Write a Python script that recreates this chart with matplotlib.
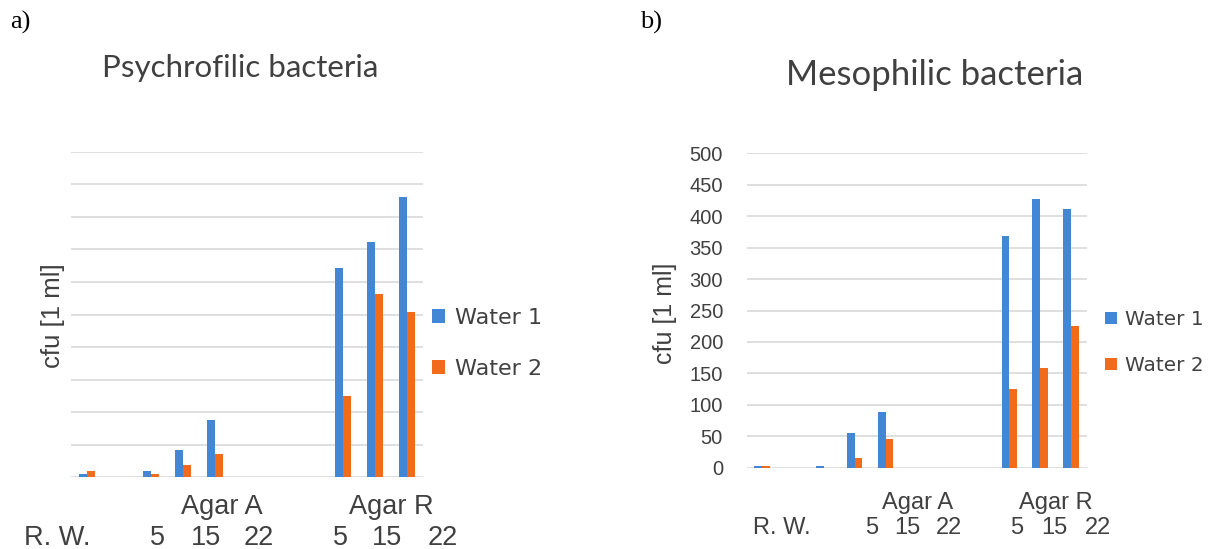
import matplotlib
matplotlib.use("Agg")
import matplotlib.pyplot as plt
import numpy as np

# categories (gaps are empty slots in the original sheet)
categories = ["R. W.", "", "A 5", "A 15", "A 22", "", "", "", "R 5", "R 15", "R 22"]
series_names = ["Water 1", "Water 2"]

# Psychrofilic bacteria (no y scale printed; read on gridline units)
psy_water1 = [5, 0, 9, 42, 88, 0, 0, 0, 321, 361, 431]
psy_water2 = [9, 0, 5, 19, 36, 0, 0, 0, 125, 282, 254]

# Mesophilic bacteria
meso_water1 = [3, 0, 3, 55, 88, 0, 0, 0, 368, 428, 411]
meso_water2 = [3, 0, 0, 15, 45, 0, 0, 0, 125, 158, 225]

yticks = [0, 50, 100, 150, 200, 250, 300, 350, 400, 450, 500]

BLUE = "#4287d6"
ORANGE = "#f26b1a"
GRID = "#d9d9d9"
TXT = "#404040"

W, H = 1213, 549
fig = plt.figure(figsize=(W / 100, H / 100), dpi=100)


def px(x, y):
    # pixel position -> figure fraction
    return x / W, 1 - y / H


def axes_rect(x0, y0, x1, y1):
    return [x0 / W, 1 - y1 / H, (x1 - x0) / W, (y1 - y0) / H]


def draw_bars(ax, v1, v2):
    x = np.arange(len(categories))
    ax.bar(x - 0.125, v1, width=0.25, color=BLUE, label=series_names[0], zorder=3)
    ax.bar(x + 0.125, v2, width=0.25, color=ORANGE, label=series_names[1], zorder=3)
    ax.set_xlim(-0.5, len(categories) - 0.5)
    ax.set_ylim(0, 500)
    ax.set_yticks(yticks)
    ax.yaxis.grid(True, color=GRID, linewidth=1.2, zorder=0)
    ax.set_xticks([])
    for s in ax.spines.values():
        s.set_visible(False)
    ax.tick_params(axis="y", length=0)


def add_legend(ax, x, y, size, spacing, pad):
    ax.legend(loc="center left", bbox_to_anchor=px(x, y), bbox_transform=fig.transFigure,
              frameon=False, borderpad=0, borderaxespad=0,
              handlelength=0.6, handleheight=0.6, handletextpad=pad,
              labelspacing=spacing, prop={"family": "DejaVu Sans", "size": size},
              labelcolor=TXT)


# ---- a) Psychrofilic ----
ax1 = fig.add_axes(axes_rect(71, 152, 423, 477))
draw_bars(ax1, psy_water1, psy_water2)
ax1.set_yticklabels([])

fig.text(*px(10, 22), "a)", family="Liberation Serif", fontsize=19, va="center", ha="left")
fig.text(*px(240, 68), "Psychrofilic bacteria", family="Lato", fontsize=22.5,
         color=TXT, ha="center", va="center")
fig.text(*px(53, 316), "cfu [1 ml]", family="Liberation Sans", fontsize=18.5,
         color=TXT, rotation=90, ha="center", va="center")
add_legend(ax1, 432, 343.5, 16, 1.4, 0.45)

for txt, x in [("Agar A", 222), ("Agar R", 391)]:
    fig.text(*px(x, 507), txt, family="Liberation Sans", fontsize=19.5, color=TXT,
             ha="center", va="center")
for txt, x in [("R. W.", 57), ("5", 157), ("15", 206), ("22", 259),
               ("5", 340), ("15", 387), ("22", 443)]:
    fig.text(*px(x, 538), txt, family="Liberation Sans", fontsize=19.5, color=TXT,
             ha="center", va="center")

# ---- b) Mesophilic ----
ax2 = fig.add_axes(axes_rect(746.5, 153.3, 1086.5, 467.7))
draw_bars(ax2, meso_water1, meso_water2)
ax2.tick_params(axis="y", labelsize=14.5, labelcolor=TXT, pad=17)
for lab in ax2.get_yticklabels():
    lab.set_family("Liberation Sans")

fig.text(*px(640, 22), "b)", family="Liberation Serif", fontsize=19, va="center", ha="left")
fig.text(*px(935, 75), "Mesophilic bacteria", family="Lato", fontsize=25,
         color=TXT, ha="center", va="center")
fig.text(*px(665, 313), "cfu [1 ml]", family="Liberation Sans", fontsize=18,
         color=TXT, rotation=90, ha="center", va="center")
add_legend(ax2, 1105, 342.5, 14.4, 1.35, 0.4)

for txt, x in [("Agar A", 918), ("Agar R", 1056)]:
    fig.text(*px(x, 503), txt, family="Liberation Sans", fontsize=17, color=TXT,
             ha="center", va="center")
for txt, x in [("R. W.", 782), ("5", 872), ("15", 907), ("22", 949),
               ("5", 1017), ("15", 1054), ("22", 1098)]:
    fig.text(*px(x, 528), txt, family="Liberation Sans", fontsize=17, color=TXT,
             ha="center", va="center")

fig.savefig("out.png", dpi=100)
